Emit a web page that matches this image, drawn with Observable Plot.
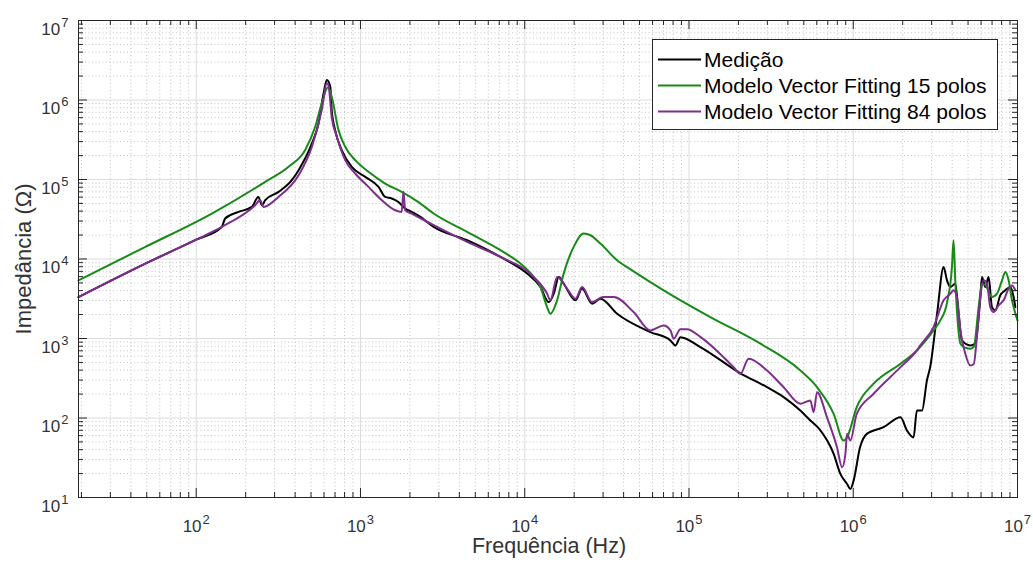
<!DOCTYPE html>
<html>
<head>
<meta charset="utf-8">
<script src="https://cdn.jsdelivr.net/npm/d3@7"></script>
<script src="https://cdn.jsdelivr.net/npm/@observablehq/plot@0.6"></script>
<style>
  html, body { margin: 0; padding: 0; background: #ffffff; }
  #chart { position: relative; width: 1033px; height: 565px; }
  svg { display: block; }
</style>
</head>
<body>
<div id="chart"></div>
<script>
// ---------- data (frequency in Hz, impedance in ohm) ----------
const seriesNames = ["Medição", "Modelo Vector Fitting 15 polos", "Modelo Vector Fitting 84 polos"];
const seriesColors = ["#000000", "#178a17", "#7e2f8e"];

const medicao = [
  [19.2,3320],[49,8750],[100,17500],[143,25300],[150,32300],[181,39100],[218,45200],[239,60400],[251,47500],[263,54900],
  [317,69800],[382,98000],[420,131000],[506,284000],[555,507000],[596,1210000],[624,1780000],[655,1470000],
  [668,746000],[701,418000],[769,234000],[885,144000],[1069,108000],[1288,80700],[1413,60400],[1549,57700],
  [1702,52200],[1871,43100],[2051,39100],[2317,33800],[2790,25300],[4460,17200],[7115,10600],[10350,6550],
  [12470,4440],[14000,2870],[15030,3665],[16120,5930],[17260,4900],[20400,3020],[22340,4240],[25700,2740],
  [28900,3170],[36500,2050],[58200,1205],[77100,946],[82600,819],[88700,1040],[117200,780],[205600,365],
  [298500,244],[377000,183],[476400,124],[548000,93],[631000,70],[760000,35.4],[835000,19.8],[917000,14.8],
  [960000,12.8],[1005000,16.3],[1100000,42.9],[1210000,63.2],[1530000,76.6],[1940000,102],[2120000,70],
  [2330000,57],[2440000,124],[2620000,124],[2810000,297],[2940000,436],[3240000,2050],[3550000,7930],
  [3720000,5400],[3900000,4440],[4180000,4900],[4380000,2050],[4590000,946],[5160000,819],[5530000,867],
  [5940000,3320],[6080000,5930],[6370000,4440],[6670000,5930],[6990000,2480],[7330000,2260],[7850000,3490],
  [8430000,4040],[9040000,4440],[9470000,3320],[9700000,2480]
];

const vf15 = [
  [19.2,5400],[49,14200],[124.5,37300],[263,93300],[365,145000],[460,234000],[530,460000],[581,906000],
  [635,1450000],[668,1100000],[735,418000],[807,258000],[929,175000],[1119,125000],[1413,89000],[1782,70000],
  [2254,52000],[2790,37300],[4460,21900],[7115,12900],[9420,8750],[11350,5930],[12470,4440],[13680,2480],
  [14320,2050],[15740,3020],[17260,6550],[19860,14200],[22850,20900],[25120,19900],[28900,15630],[36500,9630],
  [46000,7000],[70100,4040],[134900,1860],[272400,860],[476400,396],[602000,244],[760000,113],
  [875000,52],[917000,57],[1050000,137],[1330000,270],[1940000,482],[2440000,708],[3080000,1265],[3390000,1690],
  [3720000,2800],[3990000,8000],[4080000,17200],[4180000,5400],[4490000,867],[4700000,780],[5160000,745],
  [5410000,780],[5800000,2480],[6080000,4900],[6370000,4700],[6990000,3320],[7500000,3660],[8050000,5400],
  [8430000,6860],[8830000,5400],[9260000,3020],[9700000,2070],[10000000,1690]
];

const vf84 = [
  [19.2,3320],[49,8750],[100,17500],[143,25300],[228.5,47500],[245,54900],[257,45200],[317,60400],[420,113000],[506,258000],
  [581,746000],[624,1620000],[638,1540000],[668,614000],[718,344000],[807,175000],[929,119000],[1119,80700],
  [1349,54900],[1626,41000],[1782,39100],[1828,70000],[1871,41000],[2051,37300],[2790,26600],[4460,16400],
  [7115,10600],[11350,5930],[13680,3665],[14320,3020],[15740,5930],[18100,4240],[20400,3170],[22340,4440],
  [25700,2870],[29900,3320],[34800,3320],[46000,2150],[58200,1265],[70100,1460],[77100,1265],[80700,995],
  [88700,1310],[97300,1310],[117200,1050],[187000,436],[205600,360],[230700,557],[298500,396],[377000,244],
  [476400,151],[548000,166],[574000,118],[602000,211],[692000,102],[796000,42.9],[855000,24],[896000,35.4],
  [917000,63.2],[960000,52],[1050000,113],[1330000,202],[1940000,436],[2440000,708],[2560000,819],
  [3080000,1390],[3550000,3020],[3900000,3660],[4080000,4040],[4280000,3320],[4490000,1265],[4810000,644],
  [5160000,458],[5410000,475],[5660000,1040],[5940000,3320],[6220000,5400],[6520000,4900],[6830000,2480],
  [7160000,2150],[7670000,2610],[8230000,3020],[8830000,4240],[9260000,4650],[9700000,4040]
];

// axis extents and tick values
const xDomain = [19.2, 1e7];
const yDomain = [10, 1e7];
const xMajorTicks = [1e2, 1e3, 1e4, 1e5, 1e6, 1e7];
const yMajorTicks = [1e1, 1e2, 1e3, 1e4, 1e5, 1e6, 1e7];
const xAxisLabel = "Frequência (Hz)";
const yAxisLabel = "Impedância (Ω)";

// ---------- build ----------
function minorTicks(lo, hi) {
  const out = [];
  for (let d = Math.floor(Math.log10(lo)); d < Math.ceil(Math.log10(hi)); d++) {
    for (let k = 2; k <= 9; k++) {
      const v = k * Math.pow(10, d);
      if (v > lo && v < hi) out.push(v);
    }
  }
  return out;
}
const xMinorTicks = minorTicks(xDomain[0], xDomain[1]);
const yMinorTicks = minorTicks(yDomain[0], yDomain[1]);

const toRows = (arr) => arr.map(([f, z]) => ({f, z}));
const series = [medicao, vf15, vf84].map(toRows);

const FONT = '"Liberation Sans", Arial, Helvetica, sans-serif';
const AX = "#262626";
const expLabel = (d) => "10^" + Math.round(Math.log10(d));

const marks = [
  // grid
  Plot.ruleX(xMinorTicks, {stroke: "#c4c4c4", strokeDasharray: "1,2.5", strokeWidth: 1}),
  Plot.ruleY(yMinorTicks, {stroke: "#c4c4c4", strokeDasharray: "1,2.5", strokeWidth: 1}),
  Plot.ruleX(xMajorTicks, {stroke: "#dcdcdc", strokeWidth: 1}),
  Plot.ruleY(yMajorTicks, {stroke: "#dcdcdc", strokeWidth: 1}),
  // curves
  ...series.map((s, i) => Plot.line(s, {x: "f", y: "z", stroke: seriesColors[i], strokeWidth: 2,
    strokeLinejoin: "round", curve: "monotone-x"})),
  // inward tick marks on all four sides
  Plot.ruleX(xMajorTicks, {y1: () => yDomain[0], y2: () => yDomain[0], insetBottom: 9, stroke: AX}),
  Plot.ruleX(xMajorTicks, {y1: () => yDomain[1], y2: () => yDomain[1], insetTop: 9, stroke: AX}),
  Plot.ruleX(xMinorTicks, {y1: () => yDomain[0], y2: () => yDomain[0], insetBottom: 5, stroke: AX}),
  Plot.ruleX(xMinorTicks, {y1: () => yDomain[1], y2: () => yDomain[1], insetTop: 5, stroke: AX}),
  Plot.ruleY(yMajorTicks, {x1: () => xDomain[0], x2: () => xDomain[0], insetLeft: 9, stroke: AX}),
  Plot.ruleY(yMajorTicks, {x1: () => xDomain[1], x2: () => xDomain[1], insetRight: 9, stroke: AX}),
  Plot.ruleY(yMinorTicks, {x1: () => xDomain[0], x2: () => xDomain[0], insetLeft: 5, stroke: AX}),
  Plot.ruleY(yMinorTicks, {x1: () => xDomain[1], x2: () => xDomain[1], insetRight: 5, stroke: AX}),
  Plot.frame({stroke: AX, strokeWidth: 1}),
  // tick labels
  Plot.text(xMajorTicks, {x: (d) => d, y: () => yDomain[0], text: expLabel, dy: 34, lineAnchor: "bottom",
    textAnchor: "middle", fontSize: 17, fill: "#333333"}),
  Plot.text(yMajorTicks, {x: () => xDomain[0], y: (d) => d, text: expLabel, dx: -10, dy: 14, lineAnchor: "bottom",
    textAnchor: "end", fontSize: 17, fill: "#333333"})
];

const svg = Plot.plot({
  width: 1033,
  height: 565,
  marginLeft: 78,
  marginRight: 16,
  marginTop: 20,
  marginBottom: 68,
  x: {type: "log", domain: xDomain, axis: null},
  y: {type: "log", domain: yDomain, axis: null},
  style: {fontFamily: FONT, background: "#ffffff", overflow: "visible"},
  marks
});

// superscript exponents in tick labels
d3.select(svg).selectAll("text").each(function () {
  const m = /^10\^(\d+)$/.exec(this.textContent);
  if (!m) return;
  this.textContent = "10";
  d3.select(this).append("tspan").attr("dy", -8).attr("dx", 1).attr("font-size", 13).text(m[1]);
});

const root = d3.select(svg);
// axis labels
root.append("text")
  .attr("x", 549).attr("y", 553)
  .attr("text-anchor", "middle")
  .attr("font-family", FONT).attr("font-size", 21.5).attr("fill", "#333333")
  .text(xAxisLabel);
root.append("text")
  .attr("transform", "translate(31,259) rotate(-90)")
  .attr("text-anchor", "middle")
  .attr("font-family", FONT).attr("font-size", 22).attr("fill", "#333333")
  .text(yAxisLabel);

// legend box inside the axes
const lg = root.append("g").attr("font-family", FONT).attr("font-size", 21).attr("text-anchor", "start");
lg.append("rect").attr("x", 652.5).attr("y", 39.5).attr("width", 345).attr("height", 90)
  .attr("fill", "#ffffff").attr("stroke", AX).attr("stroke-width", 1);
const rowY = [59.5, 85.5, 111.5];
seriesNames.forEach((name, i) => {
  lg.append("line").attr("x1", 658).attr("x2", 701).attr("y1", rowY[i]).attr("y2", rowY[i])
    .attr("stroke", seriesColors[i]).attr("stroke-width", 2);
  lg.append("text").attr("x", 704).attr("y", rowY[i] + 7.5).attr("text-anchor", "start")
    .attr("fill", "#000000").text(name);
});

document.getElementById("chart").appendChild(svg);
</script>
</body>
</html>
